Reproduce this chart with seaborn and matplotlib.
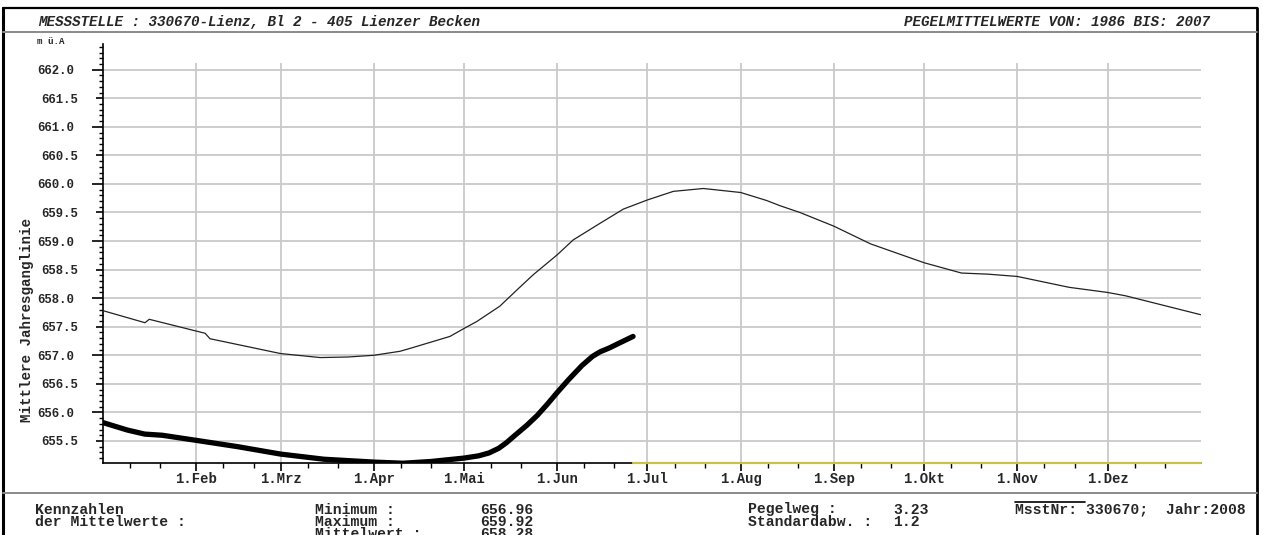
import numpy as np
import pandas as pd
import matplotlib
matplotlib.use("Agg")
import matplotlib.pyplot as plt
import seaborn as sns
from matplotlib.lines import Line2D
from matplotlib.ticker import MultipleLocator
from matplotlib.transforms import ScaledTranslation

# ---------------------------------------------------------------------------
# Data: mean annual hydrograph 1986-2007 and current year 2008
# (x = day of year, y = water level in m ü.A)
# ---------------------------------------------------------------------------
mean_days = [0, 13.9, 15.3, 33.9, 35.5, 59, 72.2, 81.4, 90, 98.7, 102, 115.3,
             120, 124.2, 131.9, 137.5, 143, 151, 156.3, 165.2, 173, 181,
             189.6, 199.6, 212, 220.6, 225, 231.7, 243, 255.2, 273, 285.4,
             294.3, 304, 321.2, 334, 340.1, 365]
mean_vals = [657.78, 657.57, 657.63, 657.385, 657.29, 657.03, 656.96, 656.97,
             657.00, 657.07, 657.12, 657.33, 657.47, 657.59, 657.86, 658.14,
             658.41, 658.76, 659.02, 659.31, 659.56, 659.72, 659.87, 659.92,
             659.85, 659.71, 659.62, 659.50, 659.26, 658.95, 658.62, 658.44,
             658.42, 658.38, 658.19, 658.10, 658.04, 657.71]

year_days = [0, 8.1, 13.8, 19.6, 31, 44.7, 59, 73.4, 90, 99.7, 108.9, 120,
             124.9, 128.3, 131.5, 134.1, 136.3, 141, 144.4, 147.8, 151, 154.7,
             159.2, 162.7, 165.2, 168.4, 170.7, 176.2]
year_vals = [655.82, 655.69, 655.62, 655.60, 655.51, 655.40, 655.27, 655.18,
             655.13, 655.11, 655.14, 655.20, 655.24, 655.29, 655.37, 655.47,
             655.57, 655.78, 655.95, 656.15, 656.35, 656.57, 656.82, 656.98,
             657.06, 657.13, 657.19, 657.33]

# days of 2008 without values yet
open_days = [176.2, 365]

month_starts = [0, 31, 59, 90, 120, 151, 181, 212, 243, 273, 304, 334]
month_labels = ["", "1.Feb", "1.Mrz", "1.Apr", "1.Mai", "1.Jun", "1.Jul",
                "1.Aug", "1.Sep", "1.Okt", "1.Nov", "1.Dez"]
level_ticks = np.round(np.arange(655.5, 662.01, 0.5), 1)

stats_names = ["Minimum :", "Maximum :", "Mittelwert :"]
stats_values = ["656.96", "659.92", "658.28"]
spread_names = ["Pegelweg :", "Standardabw. :"]
spread_values = ["3.23", "1.2"]

# ---------------------------------------------------------------------------
sns.set_style("white")
plt.rcParams["font.family"] = ["Liberation Mono", "DejaVu Sans Mono"]
plt.rcParams["font.weight"] = "bold"

W, H = 1263, 535
fig = plt.figure(figsize=(W / 100, H / 100), dpi=100)


def fx(x):
    return x / W


def fy(y):
    return 1 - y / H


y_lo, y_hi = 655.114, 662.45
ax = fig.add_axes([fx(103.2), fy(463), (1200.8 - 103.2) / W, (463 - 44) / H])
ax.set_xlim(0, 365)
ax.set_ylim(y_lo, y_hi)

grid_col = "#c9c9c9"
ax.vlines(month_starts[1:], y_lo, 662.12, color=grid_col, lw=1.3, zorder=0)
ax.grid(axis="y", which="major", color=grid_col, lw=1.3)
ax.grid(axis="x", visible=False)

mean_df = pd.DataFrame({"tag": mean_days, "pegel": mean_vals})
year_df = pd.DataFrame({"tag": year_days, "pegel": year_vals})

sns.lineplot(data=mean_df, x="tag", y="pegel", ax=ax, color="#222222",
             lw=0.9, sort=False, estimator=None, zorder=3)
sns.lineplot(data=year_df, x="tag", y="pegel", ax=ax, color="black",
             lw=3.8, sort=False, estimator=None, zorder=4,
             solid_capstyle="round", solid_joinstyle="round")
sns.lineplot(x=open_days, y=[y_lo] * len(open_days), ax=ax, color="#c9c24a",
             lw=1.6, sort=False, estimator=None, zorder=5, clip_on=False)

for side in ("top", "right"):
    ax.spines[side].set_visible(False)
for side in ("left", "bottom"):
    ax.spines[side].set_color("black")
    ax.spines[side].set_linewidth(1.2)

ax.set_xlabel("")
ax.set_ylabel("Mittlere Jahresganglinie", fontsize=10.2, fontweight="bold")
ax.yaxis.set_label_coords((34 - 103.2) / (1200.8 - 103.2), (463 - 320) / (463 - 44))

ax.set_xticks(month_starts[1:])
ax.set_xticklabels(month_labels[1:])
ax.set_xticks([m + d for m in month_starts for d in (9, 19)], minor=True)
ax.tick_params(axis="x", which="major", bottom=True, length=6, width=1.2,
               pad=8.6, labelsize=10, color="black")
ax.tick_params(axis="x", which="minor", bottom=True, length=3.5, width=1.0,
               color="black")
plt.setp(ax.get_xticklabels(), va="baseline")

ax.set_yticks(level_ticks)
ax.set_yticklabels([f"{v:.1f}" for v in level_ticks])
ax.yaxis.set_minor_locator(MultipleLocator(0.1))
ax.tick_params(axis="y", which="major", left=True, length=5, width=1.2,
               pad=13, labelsize=8.8, color="black")
ax.tick_params(axis="y", which="minor", left=True, length=3, width=1.0,
               color="black")
# whole metres get longer ticks; their labels step out with them
for tick, v in zip(ax.yaxis.get_major_ticks(), level_ticks):
    if abs(v - round(v)) < 1e-6:
        tick.tick1line.set_markersize(8)
        lbl = tick.label1
        lbl.set_transform(lbl.get_transform()
                          + ScaledTranslation(-3 / 72, 0, fig.dpi_scale_trans))

# ---------------------------------------------------------------------------
# sheet frame and header / footer
# ---------------------------------------------------------------------------
def fline(x1, y1, x2, y2, color="black", lw=1.5):
    fig.add_artist(Line2D([fx(x1), fx(x2)], [fy(y1), fy(y2)],
                          transform=fig.transFigure, color=color, lw=lw))


fline(3, 8, 3, 535, lw=2.2)
fline(3, 8, 1257, 8, lw=1.6)
fline(1257, 8, 1257, 535, lw=2.0)
fline(3, 32, 1257, 32, color="#8a8a8a", lw=1.4)
fline(3, 493, 1257, 493, color="#8a8a8a", lw=1.4)

HEAD = 10.3
FOOT = 10.6
LS = 0.83
fig.text(fx(38), fy(22), "MESSSTELLE : 330670-Lienz, Bl 2 - 405 Lienzer Becken",
         fontsize=HEAD, fontweight="bold", style="italic", va="center", ha="left")
fig.text(fx(1210), fy(22), "PEGELMITTELWERTE VON: 1986 BIS: 2007",
         fontsize=HEAD, fontweight="bold", style="italic", va="center", ha="right")
fig.text(fx(37), fy(41), "m ü.A", fontsize=6.6, fontweight="bold",
         va="center", ha="left")

top_y = 502.5
footer_blocks = [
    (35, "Kennzahlen\nder Mittelwerte :"),
    (315, "\n".join(stats_names)),
    (480, "\n".join(stats_values)),
    (748, "\n".join(spread_names)),
    (893, "\n".join(spread_values)),
    (1015, "MsstNr: 330670;  Jahr:2008"),
]
for xx, txt in footer_blocks:
    fig.text(fx(xx), fy(top_y), txt, fontsize=FOOT, fontweight="bold",
             va="top", ha="left", linespacing=LS)
fline(1015, 502, 1085, 502, lw=1.2)

fig.savefig("out.png", dpi=100, facecolor="white")
